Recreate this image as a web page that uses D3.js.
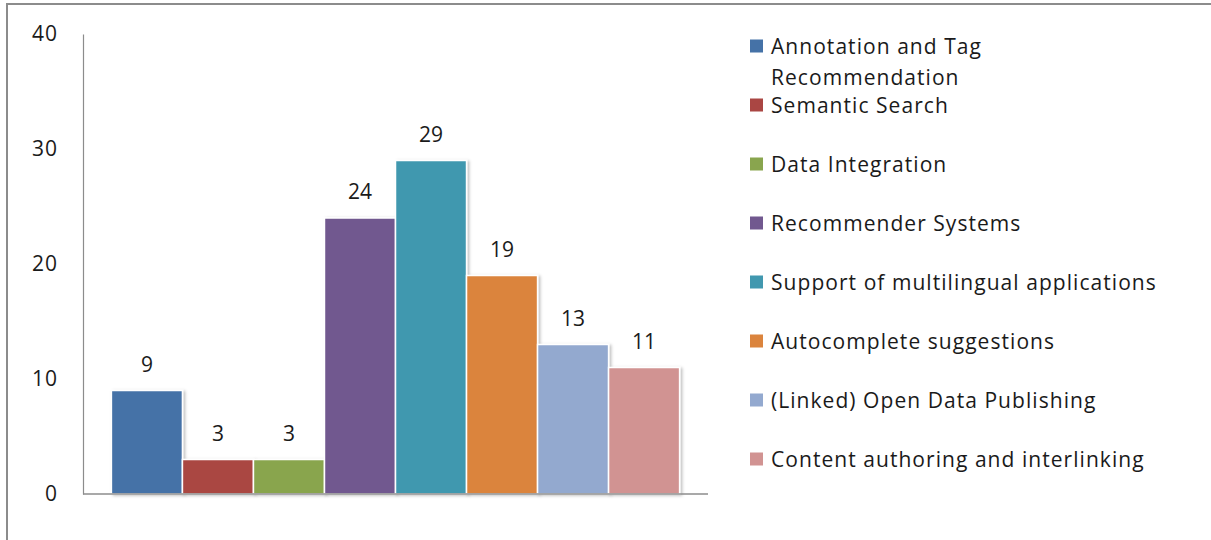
<!DOCTYPE html>
<html>
<head>
<meta charset="utf-8">
<script src="https://cdn.jsdelivr.net/npm/d3@7"></script>
<style>
  body { margin: 0; background: #fff; }
  svg { display: block; font-family: "Open Sans", Lato, sans-serif; }
</style>
</head>
<body>
<div id="chart"></div>
<script>
const categorias = [
  "Annotation and Tag Recommendation",
  "Semantic Search",
  "Data Integration",
  "Recommender Systems",
  "Support of multilingual applications",
  "Autocomplete suggestions",
  "(Linked) Open Data Publishing",
  "Content authoring and interlinking"
]
const valores = [9, 3, 3, 24, 29, 19, 13, 11]
const colores = ["#4572A7", "#AA4643", "#89A54E", "#71588F", "#4198AF", "#DB843D", "#93A9CF", "#D19392"]
const ticksY = [0, 10, 20, 30, 40]
// líneas de la leyenda (la primera entrada ocupa dos)
const lineasLeyenda = [["Annotation and Tag", "Recommendation"], ["Semantic Search"], ["Data Integration"],
  ["Recommender Systems"], ["Support of multilingual applications"], ["Autocomplete suggestions"],
  ["(Linked) Open Data Publishing"], ["Content authoring and interlinking"]]

const ancho = 1211, alto = 540
const margen = { izquierdo: 83, derecho: 708, superior: 34, inferior: 494 }

const svg = d3.select("#chart").append("svg").attr("width", ancho).attr("height", alto)

const defs = svg.append("defs")
const sombra = defs.append("filter").attr("id", "sombra").attr("x", "-10%").attr("y", "-10%").attr("width", "130%").attr("height", "130%")
sombra.append("feDropShadow").attr("dx", 2).attr("dy", 1).attr("stdDeviation", 1.5)
  .attr("flood-color", "#000").attr("flood-opacity", 0.25)

// marco
svg.append("path").attr("d", `M7,${alto} L7,4 L${ancho},4`)
  .attr("fill", "none").attr("stroke", "#8c8c8c").attr("stroke-width", 2)

const x = d3.scaleBand().domain(categorias).range([margen.izquierdo, margen.derecho])
  .paddingInner(0).paddingOuter(0.4)
const y = d3.scaleLinear().domain([0, 40]).range([margen.inferior, margen.superior])

// eje y: solo etiquetas y línea
const ejeY = svg.append("g").attr("transform", `translate(${margen.izquierdo},0)`)
  .call(d3.axisLeft(y).tickValues(ticksY).tickSize(0).tickPadding(25))
ejeY.select(".domain").attr("stroke", "#8c8c8c").attr("stroke-width", 1.2)
ejeY.selectAll("text").attr("font-size", 21).attr("fill", "#1a1a1a")
  .attr("font-family", "'Open Sans', sans-serif").attr("letter-spacing", 1)

// barras
const datos = categorias.map((c, i) => ({ c, v: valores[i], color: colores[i] }))
svg.append("g").selectAll("rect").data(datos).enter().append("rect")
  .attr("x", d => x(d.c))
  .attr("y", d => y(d.v))
  .attr("width", x.bandwidth())
  .attr("height", d => y(0) - y(d.v))
  .attr("fill", d => d.color)
  .attr("stroke", "#fff").attr("stroke-width", 1.5)
  .attr("filter", "url(#sombra)")

// eje x
svg.append("line").attr("x1", margen.izquierdo).attr("x2", margen.derecho)
  .attr("y1", y(0)).attr("y2", y(0)).attr("stroke", "#8c8c8c").attr("stroke-width", 1.5)

// etiquetas de valores
svg.append("g").selectAll("text").data(datos).enter().append("text")
  .attr("x", d => x(d.c) + x.bandwidth() / 2)
  .attr("y", d => y(d.v) - 19)
  .attr("text-anchor", "middle")
  .attr("font-size", 21).attr("fill", "#1a1a1a")
  .text(d => d.v)

// leyenda
const leyenda = svg.append("g")
datos.forEach((d, i) => {
  const cy = 46 + 59 * i
  leyenda.append("rect").attr("x", 750).attr("y", cy - 6.5).attr("width", 13).attr("height", 13).attr("fill", d.color)
  lineasLeyenda[i].forEach((l, j) => {
    leyenda.append("text").attr("x", 771).attr("y", cy + 7.5 + j * 31)
      .attr("font-size", 21).attr("letter-spacing", 1.05).attr("fill", "#1a1a1a").text(l)
  })
})
</script>
</body>
</html>
